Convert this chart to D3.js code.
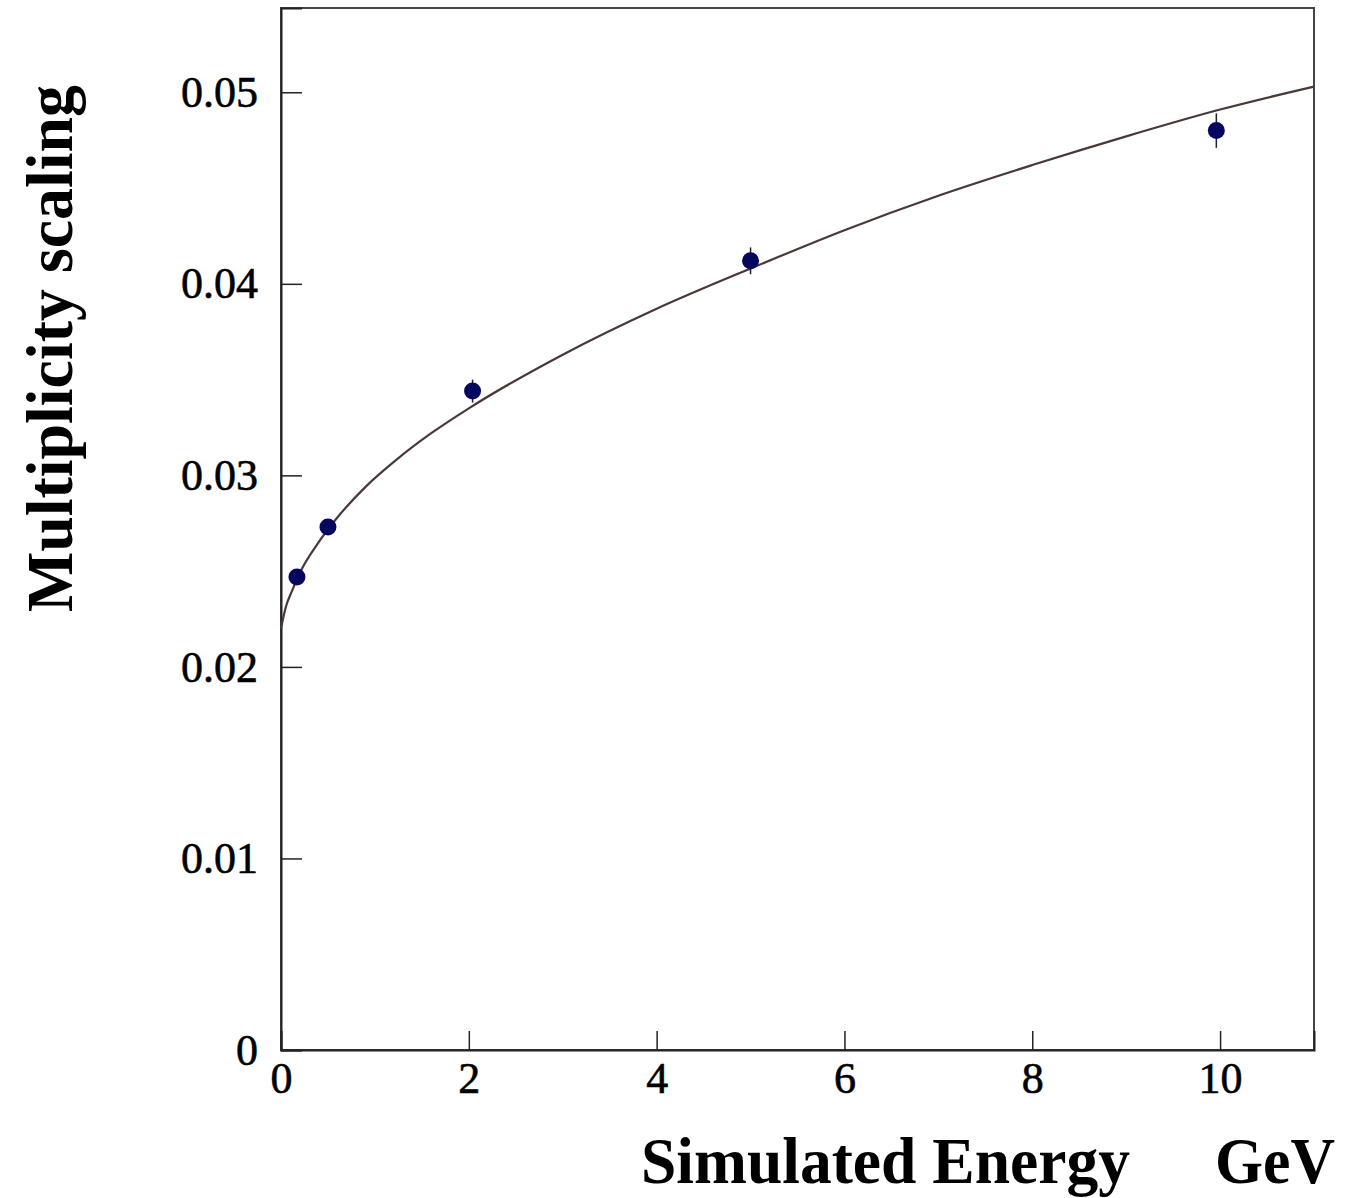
<!DOCTYPE html>
<html>
<head>
<meta charset="utf-8">
<script src="https://cdn.jsdelivr.net/npm/d3@7/dist/d3.min.js"></script>
<style>
  body { margin: 0; background: #fff; }
  svg { display: block; }
</style>
</head>
<body>
<svg id="chart"></svg>
<script>
// measured points (energy in GeV, multiplicity scaling, error)
const energies = [0.17, 0.5, 2.04, 5.0, 9.96];
const scaling = [0.0247, 0.0273, 0.0344, 0.0412, 0.0480];
const errors = [0.0003, 0.0003, 0.0006, 0.0007, 0.0009];

// fitted curve
const fitE = [0, 0.05, 0.12, 0.2, 0.4, 0.6, 0.9, 1.25, 1.6, 2.0, 3.0, 4.0, 5.0, 6.0, 7.0, 8.0, 9.0, 10.0, 11.0];
const fitY = [0.0220, 0.0231, 0.0240, 0.0249, 0.0265, 0.0278, 0.0294, 0.0309, 0.0322, 0.0335, 0.0363, 0.0387, 0.0408, 0.0428, 0.0446, 0.0462, 0.0477, 0.0491, 0.0503];

const xTicks = [0, 2, 4, 6, 8, 10];
const yTicks = [0, 0.01, 0.02, 0.03, 0.04, 0.05];

const width = 1348, height = 1198;
const margin = { left: 281, right: 34, top: 8, bottom: 148 };

const svg = d3.select('#chart')
  .attr('width', width)
  .attr('height', height);

const x = d3.scaleLinear()
  .domain([0, 11])
  .range([margin.left, width - margin.right]);

const y = d3.scaleLinear()
  .domain([0, 0.0544])
  .range([height - margin.bottom, margin.top]);

const serif = '"Liberation Serif", "DejaVu Serif", serif';

// frame
svg.append('rect')
  .attr('x', x(0))
  .attr('y', y(0.0544))
  .attr('width', x(11) - x(0))
  .attr('height', y(0) - y(0.0544))
  .attr('fill', 'none')
  .attr('stroke', '#444')
  .attr('stroke-width', 2);

// axes, ticks point inward
const xAxis = svg.append('g')
  .attr('transform', `translate(0,${y(0)})`)
  .call(d3.axisBottom(x).tickValues(xTicks).tickSize(-19).tickPadding(12)
    .tickFormat(d3.format('d')));

const yAxis = svg.append('g')
  .attr('transform', `translate(${x(0)},0)`)
  .call(d3.axisLeft(y).tickValues(yTicks).tickSize(-21).tickPadding(23)
    .tickFormat(d => d === 0 ? '0' : d3.format('.2f')(d)));

[xAxis, yAxis].forEach(g => {
  g.select('.domain').attr('stroke', '#222').attr('stroke-width', 2);
  g.selectAll('.tick line').attr('stroke', '#222').attr('stroke-width', 1.5);
  g.selectAll('.tick text')
    .attr('fill', '#000')
    .attr('stroke', '#000')
    .attr('stroke-width', 0.6)
    .style('font-family', serif)
    .style('font-size', '44px');
});

// fit curve
const line = d3.line()
  .x((d, i) => x(fitE[i]))
  .y(d => y(d))
  .curve(d3.curveMonotoneX);

svg.append('path')
  .datum(fitY)
  .attr('d', line)
  .attr('fill', 'none')
  .attr('stroke', '#4a3838')
  .attr('stroke-width', 2.2);

// error bars
const pts = energies.map((e, i) => ({ e, v: scaling[i], err: errors[i] }));

svg.selectAll('line.err')
  .data(pts)
  .enter().append('line')
    .attr('class', 'err')
    .attr('x1', d => x(d.e))
    .attr('x2', d => x(d.e))
    .attr('y1', d => y(d.v - d.err))
    .attr('y2', d => y(d.v + d.err))
    .attr('stroke', '#222')
    .attr('stroke-width', 1.5);

svg.selectAll('circle.pt')
  .data(pts)
  .enter().append('circle')
    .attr('class', 'pt')
    .attr('cx', d => x(d.e))
    .attr('cy', d => y(d.v))
    .attr('r', 8.5)
    .attr('fill', '#06065e');

// axis titles
svg.append('text')
  .attr('x', 641)
  .attr('y', 1183)
  .attr('textLength', 489)
  .attr('lengthAdjust', 'spacingAndGlyphs')
  .style('font-family', serif)
  .style('font-weight', 'bold')
  .style('font-size', '66px')
  .text('Simulated Energy');

svg.append('text')
  .attr('x', 1335)
  .attr('y', 1183)
  .attr('text-anchor', 'end')
  .attr('textLength', 120)
  .attr('lengthAdjust', 'spacingAndGlyphs')
  .style('font-family', serif)
  .style('font-weight', 'bold')
  .style('font-size', '66px')
  .text('GeV');

svg.append('text')
  .attr('transform', 'translate(72,612) rotate(-90)')
  .attr('textLength', 527)
  .attr('lengthAdjust', 'spacingAndGlyphs')
  .style('font-family', serif)
  .style('font-weight', 'bold')
  .style('font-size', '66px')
  .text('Multiplicity scaling');
</script>
</body>
</html>
